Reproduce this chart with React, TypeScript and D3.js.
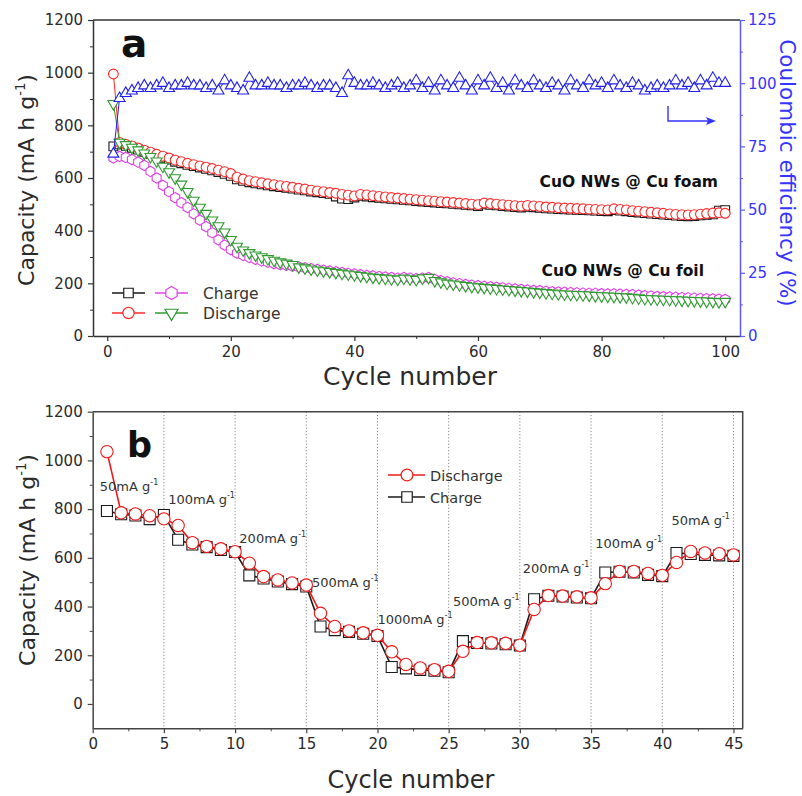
import React, { useEffect, useRef } from "react";
import * as d3 from "d3";

// ---------- panel a : cycling, 100 cycles ----------
const foamDischarge = [
  995, 735, 728, 722, 714, 706, 698, 690, 683, 676,
  668, 662, 656, 651, 646, 641, 636, 630, 624, 617,
  603, 596, 590, 586, 582, 578, 575, 571, 568, 565,
  561, 558, 554, 551, 548, 545, 542, 538, 535, 532,
  538, 536, 533, 530, 528, 526, 524, 522, 520, 518,
  516, 514, 512, 510, 509, 507, 505, 503, 501, 499,
  505, 503, 501, 499, 497, 495, 493, 496, 494, 492,
  490, 489, 487, 486, 485, 484, 483, 482, 481, 480,
  479, 483, 481, 479, 476, 474, 472, 470, 468, 466,
  464, 462, 461, 460, 461, 463, 465, 467, 468, 466,
];
const foamCharge = [
  720, 728, 722, 715, 708, 700, 692, 684, 677, 670,
  662, 656, 650, 645, 640, 635, 629, 623, 616, 608,
  595, 589, 584, 580, 576, 572, 569, 566, 563, 560,
  556, 553, 549, 546, 543, 540, 530, 522, 520, 526,
  532, 530, 527, 525, 523, 521, 519, 517, 515, 513,
  511, 509, 507, 505, 504, 502, 500, 498, 496, 494,
  500, 498, 496, 494, 492, 490, 488, 491, 489, 487,
  485, 484, 482, 481, 480, 479, 478, 477, 476, 475,
  474, 478, 476, 474, 471, 469, 467, 465, 463, 461,
  459, 457, 456, 455, 456, 458, 460, 462, 476, 478,
];
const foilDischarge = [
  882, 735, 726, 716, 706, 694, 681, 664, 644, 623,
  600, 576, 548, 515, 488, 465, 440, 418, 394, 366,
  340, 326, 316, 307, 300, 293, 287, 281, 276, 271,
  262, 258, 254, 250, 247, 244, 241, 238, 235, 232,
  229, 226, 223, 221, 219, 217, 215, 219, 217, 214,
  220, 222, 210, 205, 200, 197, 194, 191, 188, 186,
  184, 182, 180, 178, 176, 174, 172, 170, 168, 166,
  164, 162, 160, 159, 158, 157, 156, 155, 153, 152,
  151, 150, 149, 148, 146, 144, 142, 141, 140, 139,
  138, 137, 136, 135, 134, 133, 132, 131, 130, 131,
];
const foilCharge = [
  676, 682, 678, 670, 660, 648, 625, 600, 572, 548,
  525, 506, 488, 464, 440, 415, 392, 365, 345, 328,
  315, 306, 298, 291, 285, 280, 275, 271, 268, 265,
  262, 259, 256, 253, 250, 247, 244, 241, 238, 236,
  233, 230, 228, 226, 224, 222, 220, 222, 220, 218,
  220, 222, 215, 210, 206, 202, 199, 196, 193, 191,
  189, 187, 185, 183, 181, 179, 177, 175, 173, 172,
  170, 168, 167, 166, 165, 164, 163, 162, 162, 161,
  160, 160, 159, 158, 157, 155, 153, 152, 150, 149,
  148, 147, 146, 145, 144, 143, 142, 141, 140, 139,
];
const coulombic = [
  72, 94, 96, 97, 98, 99, 98, 99, 100, 98,
  99, 99, 100, 99, 99, 98, 99, 97, 101, 99,
  98, 97, 102, 99, 99, 100, 99, 99, 98, 99,
  99, 100, 99, 98, 99, 99, 98, 96, 103, 100,
  99, 99, 100, 99, 98, 99, 100, 98, 99, 101,
  98, 100, 97, 101, 99, 98, 102, 99, 97, 101,
  99, 102, 98, 100, 97, 101, 99, 98, 101, 99,
  98, 100, 99, 97, 101, 99, 98, 101, 99, 100,
  98, 101, 99, 98, 100, 99, 97, 98, 99, 98,
  99, 101, 99, 100, 98, 101, 99, 102, 100, 100,
];
const xTicksA = [0, 20, 40, 60, 80, 100];
const yTicksA = [0, 200, 400, 600, 800, 1000, 1200];
const ceTicks = [0, 25, 50, 75, 100, 125];

// ---------- panel b : rate capability, 45 cycles ----------
const rateDischarge = [
  1036, 785, 780, 773, 760, 733, 662, 647, 637, 625,
  578, 523, 509, 497, 488, 372, 318, 300, 292, 282,
  214, 162, 148, 141, 134, 216, 252, 251, 249, 241,
  388, 445, 443, 440, 436, 494, 544, 544, 536, 528,
  581, 626, 620, 617, 612,
];
const rateCharge = [
  792, 779, 774, 759, 776, 674, 655, 644, 632, 624,
  528, 515, 503, 492, 482, 318, 303, 296, 288, 279,
  152, 146, 140, 136, 130, 258, 250, 248, 245, 240,
  430, 444, 441, 437, 434, 540, 543, 540, 530, 525,
  620, 616, 612, 610, 608,
];
const rateLabels = ["50", "100", "200", "500", "1000", "500", "200", "100", "50"];
const xTicksB = [0, 5, 10, 15, 20, 25, 30, 35, 40, 45];
const yTicksB = [0, 200, 400, 600, 800, 1000, 1200];

const FONT = "'DejaVu Sans', sans-serif";
const INK = "#2a2a2a";
const BLUE = "#3535ff";

function hexagon(r: number) {
  const pts = d3.range(6).map((i) => {
    const a = -Math.PI / 2 + (i * Math.PI) / 3;
    return [r * Math.cos(a), r * Math.sin(a)];
  });
  return "M" + pts.map((p) => p.join(",")).join("L") + "Z";
}
function downTriangle(s: number) {
  const h = (s * Math.sqrt(3)) / 2;
  return `M${-s / 2},${-h / 3}L${s / 2},${-h / 3}L0,${(2 * h) / 3}Z`;
}
function upTriangle(s: number) {
  const h = (s * Math.sqrt(3)) / 2;
  return `M${-s / 2},${h / 3}L${s / 2},${h / 3}L0,${(-2 * h) / 3}Z`;
}

function styleAxis(g: any, color: string, textColor: string, size: number) {
  g.attr("font-family", FONT).attr("font-size", size);
  g.select(".domain").attr("stroke", color).attr("stroke-width", 1.5);
  g.selectAll(".tick line").attr("stroke", color).attr("stroke-width", 1.2);
  g.selectAll(".tick text").attr("fill", textColor);
}

function drawSeries(g: any, data: number[], x: any, y: any, color: string, marker: string, lw: number) {
  const line = d3
    .line<number>()
    .x((d, i) => x(i + 1))
    .y((d) => y(d));
  g.append("path")
    .datum(data)
    .attr("d", line)
    .attr("fill", "none")
    .attr("stroke", color)
    .attr("stroke-width", lw);
  g.append("g")
    .selectAll("path")
    .data(data)
    .enter()
    .append("path")
    .attr("transform", (d: number, i: number) => `translate(${x(i + 1)},${y(d)})`)
    .attr("d", marker)
    .attr("fill", "white")
    .attr("stroke", color)
    .attr("stroke-width", 1.1);
}

function unitLabel(g: any, transform: string, size: number, color: string, pre: string, post: string) {
  const t = g
    .append("text")
    .attr("transform", transform)
    .attr("text-anchor", "middle")
    .attr("font-family", FONT)
    .attr("font-size", size)
    .attr("fill", color);
  t.append("tspan").text(pre);
  t.append("tspan").attr("dy", -size * 0.4).attr("font-size", size * 0.6).text("-1");
  t.append("tspan").attr("dy", size * 0.4).text(post);
}

function drawTop(svg: any) {
  const left = 93, right = 740, top = 20, bottom = 336;
  const x = d3.scaleLinear().domain([-2.3, 102.4]).range([left, right]);
  const y = d3.scaleLinear().domain([0, 1200]).range([bottom, top]);
  const yce = d3.scaleLinear().domain([0, 125]).range([bottom, top]);
  const g = svg.append("g");

  // frame top
  g.append("line").attr("x1", left).attr("x2", right).attr("y1", top).attr("y2", top)
    .attr("stroke", "#333").attr("stroke-width", 1.5);

  // data
  drawSeries(g, foamCharge, x, y, "#1a1a1a", d3.symbol(d3.symbolSquare, 78)()!, 1);
  drawSeries(g, foamDischarge, x, y, "#ff2a2a", d3.symbol(d3.symbolCircle, 75)()!, 1);
  drawSeries(g, foilCharge, x, y, "#e040e8", hexagon(5.2), 1);
  drawSeries(g, foilDischarge, x, y, "#2e9a2e", downTriangle(11), 1);
  drawSeries(g, coulombic, x, yce, "#2020ee", upTriangle(11), 1);

  // axes
  const ax = g.append("g").attr("transform", `translate(0,${bottom})`)
    .call(d3.axisBottom(x).tickValues(xTicksA).tickSize(5).tickSizeOuter(0).tickPadding(5).tickFormat(d3.format("d")));
  styleAxis(ax, "#333", INK, 15);
  const axm = g.append("g").attr("transform", `translate(0,${bottom})`)
    .call(d3.axisBottom(x).tickValues([10, 30, 50, 70, 90]).tickSize(3).tickSizeOuter(0).tickFormat(() => ""));
  axm.select(".domain").remove();
  axm.selectAll(".tick line").attr("stroke", "#333");

  const ay = g.append("g").attr("transform", `translate(${left},0)`)
    .call(d3.axisLeft(y).tickValues(yTicksA).tickSize(5).tickSizeOuter(0).tickPadding(5).tickFormat(d3.format("d")));
  styleAxis(ay, "#333", INK, 15);
  const aym = g.append("g").attr("transform", `translate(${left},0)`)
    .call(d3.axisLeft(y).tickValues([100, 300, 500, 700, 900, 1100]).tickSize(3).tickSizeOuter(0).tickFormat(() => ""));
  aym.select(".domain").remove();
  aym.selectAll(".tick line").attr("stroke", "#333");

  const ar = g.append("g").attr("transform", `translate(${right},0)`)
    .call(d3.axisRight(yce).tickValues(ceTicks).tickSize(5).tickSizeOuter(0).tickPadding(3).tickFormat(d3.format("d")));
  styleAxis(ar, "#5a5aff", BLUE, 15);
  const arm = g.append("g").attr("transform", `translate(${right},0)`)
    .call(d3.axisRight(yce).tickValues([12.5, 37.5, 62.5, 87.5, 112.5]).tickSize(3).tickSizeOuter(0).tickFormat(() => ""));
  arm.select(".domain").remove();
  arm.selectAll(".tick line").attr("stroke", "#5a5aff");

  // axis titles
  g.append("text").attr("x", 410).attr("y", 385).attr("text-anchor", "middle")
    .attr("font-family", FONT).attr("font-size", 25).attr("fill", INK).text("Cycle number");
  unitLabel(g, "translate(34,180) rotate(-90)", 22, INK, "Capacity (mA h g", ")");
  g.append("text").attr("transform", "translate(780,173) rotate(90)").attr("text-anchor", "middle")
    .attr("font-family", FONT).attr("font-size", 21.5).attr("fill", BLUE).text("Coulombic efficiency (%)");

  // panel letter
  g.append("text").attr("x", 121).attr("y", 57).attr("font-family", FONT).attr("font-weight", "bold")
    .attr("font-size", 39).attr("fill", "#111").text("a");

  // arrow towards right axis
  g.append("path").attr("d", "M668,106 V121 H709").attr("fill", "none").attr("stroke", BLUE).attr("stroke-width", 1.4);
  g.append("path").attr("d", "M716,121 L706,117 L708,121 L706,125 Z").attr("fill", BLUE);

  // sample labels
  g.append("text").attr("x", 718).attr("y", 187).attr("text-anchor", "end").attr("font-family", FONT)
    .attr("font-weight", "bold").attr("font-size", 15.5).attr("fill", "#111").text("CuO NWs @ Cu foam");
  g.append("text").attr("x", 704).attr("y", 276).attr("text-anchor", "end").attr("font-family", FONT)
    .attr("font-weight", "bold").attr("font-size", 15.5).attr("fill", "#111").text("CuO NWs @ Cu foil");

  // legend
  const leg = g.append("g");
  const rows = [
    { yy: 293, a: ["#1a1a1a", d3.symbol(d3.symbolSquare, 90)()!], b: ["#e040e8", hexagon(6.5)], label: "Charge" },
    { yy: 313, a: ["#ff2a2a", d3.symbol(d3.symbolCircle, 100)()!], b: ["#2e9a2e", downTriangle(13)], label: "Discharge" },
  ];
  rows.forEach((r) => {
    [[112, 145, r.a], [155, 188, r.b]].forEach(([x1, x2, m]: any) => {
      leg.append("line").attr("x1", x1).attr("x2", x2).attr("y1", r.yy).attr("y2", r.yy)
        .attr("stroke", m[0]).attr("stroke-width", 1.3);
      leg.append("path").attr("transform", `translate(${(x1 + x2) / 2},${r.yy})`).attr("d", m[1])
        .attr("fill", "white").attr("stroke", m[0]).attr("stroke-width", 1.2);
    });
    leg.append("text").attr("x", 203).attr("y", r.yy + 5.5).attr("font-family", FONT).attr("font-size", 15.5)
      .attr("fill", "#333").text(r.label);
  });
}

function drawBottom(svg: any) {
  const left = 92.7, right = 742.7, top = 411.7, bottom = 728.3;
  const x = d3.scaleLinear().domain([0, 45.65]).range([left, right]);
  const y = d3.scaleLinear().domain([-100, 1200]).range([bottom, top]);
  const g = svg.append("g");

  // dotted grid at rate changes
  g.append("g").selectAll("line").data(xTicksB.slice(1)).enter().append("line")
    .attr("x1", (d: number) => x(d)).attr("x2", (d: number) => x(d)).attr("y1", top).attr("y2", bottom)
    .attr("stroke", "#8a8a8a").attr("stroke-width", 1).attr("stroke-dasharray", "1.2,2");

  // frame
  g.append("path").attr("d", `M${left},${top}H${right}V${bottom}`).attr("fill", "none")
    .attr("stroke", "#444").attr("stroke-width", 1.5);

  drawSeries(g, rateCharge, x, y, "#1a1a1a", d3.symbol(d3.symbolSquare, 121)()!, 1.6);
  drawSeries(g, rateDischarge, x, y, "#f01818", d3.symbol(d3.symbolCircle, 120)()!, 1.6);

  const ax = g.append("g").attr("transform", `translate(0,${bottom})`)
    .call(d3.axisBottom(x).tickValues(xTicksB).tickSize(5).tickSizeOuter(0).tickPadding(5).tickFormat(d3.format("d")));
  styleAxis(ax, "#444", INK, 15);
  const axm = g.append("g").attr("transform", `translate(0,${bottom})`)
    .call(d3.axisBottom(x).tickValues(xTicksB.map((d) => d + 2.5).slice(0, 9)).tickSize(3).tickSizeOuter(0).tickFormat(() => ""));
  axm.select(".domain").remove();
  axm.selectAll(".tick line").attr("stroke", "#444");

  const ay = g.append("g").attr("transform", `translate(${left},0)`)
    .call(d3.axisLeft(y).tickValues(yTicksB).tickSize(5).tickSizeOuter(0).tickPadding(5).tickFormat(d3.format("d")));
  styleAxis(ay, "#444", INK, 15);
  const aym = g.append("g").attr("transform", `translate(${left},0)`)
    .call(d3.axisLeft(y).tickValues([100, 300, 500, 700, 900, 1100]).tickSize(3).tickSizeOuter(0).tickFormat(() => ""));
  aym.select(".domain").remove();
  aym.selectAll(".tick line").attr("stroke", "#444");

  g.append("text").attr("x", 411).attr("y", 788).attr("text-anchor", "middle")
    .attr("font-family", FONT).attr("font-size", 24).attr("fill", INK).text("Cycle number");
  unitLabel(g, "translate(35,560) rotate(-90)", 22, INK, "Capacity (mA h g", ")");

  g.append("text").attr("x", 127).attr("y", 457).attr("font-family", FONT).attr("font-weight", "bold")
    .attr("font-size", 35).attr("fill", "#111").text("b");

  // current density labels
  const anchors = [[0.5, 875], [5.3, 822], [10.3, 662], [15.4, 480], [20.0, 330], [25.3, 401], [30.2, 539], [35.3, 641], [40.65, 735]];
  rateLabels.forEach((lab, i) => {
    const t = g.append("text").attr("x", x(anchors[i][0])).attr("y", y(anchors[i][1]))
      .attr("font-family", FONT).attr("font-size", 13).attr("fill", "#333");
    t.append("tspan").text(lab + "mA g");
    t.append("tspan").attr("dy", -6).attr("font-size", 8).text("-1");
  });

  // legend
  const leg = [
    { yy: 475, color: "#f01818", m: d3.symbol(d3.symbolCircle, 110)()!, label: "Discharge" },
    { yy: 497, color: "#1a1a1a", m: d3.symbol(d3.symbolSquare, 110)()!, label: "Charge" },
  ];
  leg.forEach((r) => {
    g.append("line").attr("x1", 388).attr("x2", 425).attr("y1", r.yy).attr("y2", r.yy)
      .attr("stroke", r.color).attr("stroke-width", 1.6);
    g.append("path").attr("transform", `translate(407,${r.yy})`).attr("d", r.m)
      .attr("fill", "white").attr("stroke", r.color).attr("stroke-width", 1.2);
    g.append("text").attr("x", 430).attr("y", r.yy + 5.5).attr("font-family", FONT).attr("font-size", 14.5)
      .attr("fill", "#333").text(r.label);
  });
}

export default function App() {
  const ref = useRef<SVGSVGElement>(null);

  useEffect(() => {
    const svg = d3.select(ref.current);
    svg.selectAll("*").remove();
    drawTop(svg);
    drawBottom(svg);
  }, []);

  return (
    <svg
      ref={ref}
      width={802}
      height={796}
      style={{ position: "absolute", left: 0, top: 0, background: "white" }}
    />
  );
}
